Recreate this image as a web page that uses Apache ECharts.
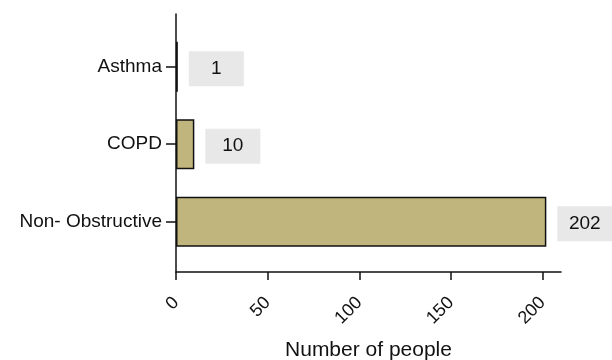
<!DOCTYPE html>
<html>
<head>
<meta charset="utf-8">
<script src="https://cdn.jsdelivr.net/npm/echarts@6/dist/echarts.min.js"></script>
<style>html,body{margin:0;padding:0;background:#fff}#c{width:612px;height:360px}</style>
</head>
<body>
<div id="c"></div>
<script>
const categories = ['Asthma', 'COPD', 'Non- Obstructive'];
const counts = [1, 10, 202];
const xTicks = [0, 50, 100, 150, 200];
const xMax = 210;
const xName = 'Number of people';

const FONT = "'Liberation Sans', Arial, sans-serif";
const chart = echarts.init(document.getElementById('c'), null, {renderer: 'canvas'});
const axisCol = '#111';
chart.setOption({
  animation: false,
  textStyle: {fontFamily: FONT},
  grid: [
    {left: 176, right: 51, top: 27.9, bottom: 99.5, containLabel: false, outerBoundsMode: 'none'},
    {left: 176, right: 51, top: 14, bottom: 88, containLabel: false, outerBoundsMode: 'none'}
  ],
  xAxis: [
    {gridIndex: 0, type: 'value', min: 0, max: xMax, show: false},
    {gridIndex: 1, type: 'value', min: xTicks[0], max: xMax, interval: 50,
     axisLine: {show: true, lineStyle: {color: axisCol, width: 1.5}},
     axisTick: {show: true, length: 8, lineStyle: {color: axisCol, width: 1.5}},
     splitLine: {show: false},
     axisLabel: {rotate: 45, margin: 28, color: '#111', fontSize: 18, fontFamily: FONT,
       showMaxLabel: false,
       formatter: v => xTicks.includes(v) ? String(v) : ''},
     name: xName, nameLocation: 'middle', nameGap: 68, nameMoveOverlap: false,
     nameTextStyle: {fontSize: 21, color: '#111', fontFamily: FONT}}
  ],
  yAxis: [
    {gridIndex: 0, type: 'category', data: categories, inverse: true,
     axisLine: {show: false},
     axisTick: {show: true, alignWithLabel: true, length: 10, lineStyle: {color: axisCol, width: 1.5}},
     axisLabel: {margin: 14, color: '#111', fontSize: 19, fontFamily: FONT}},
    {gridIndex: 1, type: 'value', min: 0, max: 1,
     axisLine: {show: true, lineStyle: {color: axisCol, width: 1.5}},
     axisTick: {show: false}, axisLabel: {show: false}, splitLine: {show: false}}
  ],
  series: [{
    type: 'bar', xAxisIndex: 0, yAxisIndex: 0,
    data: counts, barWidth: 50,
    itemStyle: {color: '#c0b57c', borderColor: '#111', borderWidth: 1.5},
    label: {show: true, position: 'right', distance: 11, offset: [0, 2],
      formatter: '{b|{c}}',
      rich: {b: {width: 55, height: 35, lineHeight: 35, align: 'center',
        backgroundColor: '#e8e8e8', fontSize: 19, color: '#111', fontFamily: FONT}}}
  }]
});
</script>
</body>
</html>
